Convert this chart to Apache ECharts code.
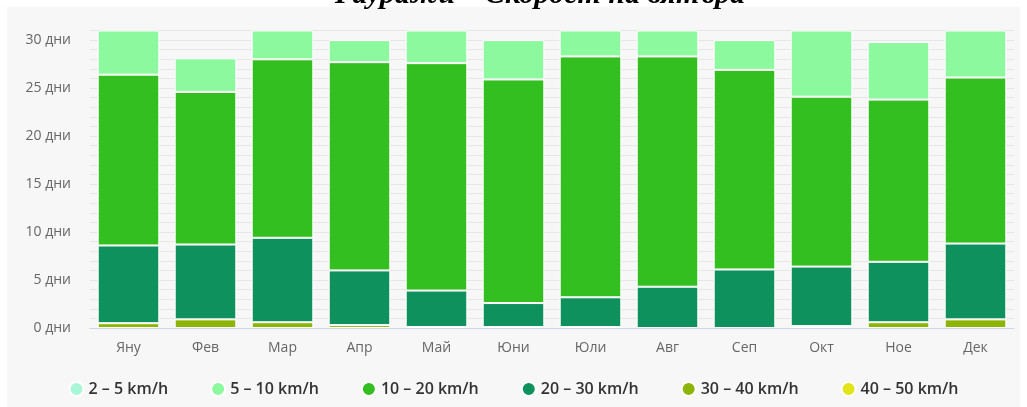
<!DOCTYPE html>
<html>
<head>
<meta charset="utf-8">
<script src="https://cdn.jsdelivr.net/npm/echarts@6/dist/echarts.min.js"></script>
<style>
  html, body { margin: 0; padding: 0; background: #fff; }
  #chart { width: 1027px; height: 407px; }
</style>
</head>
<body>
<div id="chart"></div>
<script>
// скорост на вятъра - дни по месеци
var months = ['Яну', 'Фев', 'Мар', 'Апр', 'Май', 'Юни', 'Юли', 'Авг', 'Сеп', 'Окт', 'Ное', 'Дек'];
var seriesNames = ['2 – 5 km/h', '5 – 10 km/h', '10 – 20 km/h', '20 – 30 km/h', '30 – 40 km/h', '40 – 50 km/h'];
var seriesColors = ['#aaf7d8', '#8cf99f', '#33bf20', '#0f915e', '#8cb505', '#e3e31a'];

var wind2to5   = [0, 0, 0, 0, 0, 0, 0, 0, 0, 0, 0, 0];
var wind5to10  = [4.6, 3.5, 3.0, 2.3, 3.4, 4.1, 2.7, 2.7, 3.1, 6.9, 6.0, 4.9];
var wind10to20 = [17.8, 15.9, 18.6, 21.7, 23.7, 23.3, 25.1, 24.0, 20.8, 17.7, 16.9, 17.3];
var wind20to30 = [8.1, 7.8, 8.8, 5.7, 3.8, 2.5, 3.1, 4.3, 6.1, 6.2, 6.3, 7.9];
var wind30to40 = [0.5, 0.9, 0.6, 0.3, 0.1, 0.1, 0.1, 0, 0, 0.2, 0.6, 0.9];
var wind40to50 = [0, 0, 0, 0, 0, 0, 0, 0, 0, 0, 0, 0];

var values = [wind2to5, wind5to10, wind10to20, wind20to30, wind30to40, wind40to50];

var myChart = echarts.init(document.getElementById('chart'));

// първата серия е отгоре, затова стекът върви наобратно
var series = [];
for (var i = values.length - 1; i >= 0; i--) {
    series.push({
        name: seriesNames[i],
        type: 'bar',
        stack: 'wind',
        barCategoryGap: '20%',
        itemStyle: {
            color: seriesColors[i],
            borderColor: '#ffffff',
            borderWidth: 1
        },
        emphasis: { disabled: true },
        data: values[i].map(function (v) { return v === 0 ? '-' : v; })
    });
}

var option = {
    backgroundColor: '#ffffff',
    animation: false,
    title: {
        text: 'Гауражи – Скорост на вятъра',
        left: 535,
        textAlign: 'center',
        top: -25,
        textStyle: {
            fontFamily: 'Liberation Serif',
            fontStyle: 'italic',
            fontWeight: 'bold',
            fontSize: 30,
            color: '#000'
        }
    },
    graphic: [{
        type: 'rect',
        z: -10,
        shape: { x: 7, y: 7, width: 1013, height: 400 },
        style: { fill: '#f7f7f7' }
    }],
    grid: {
        left: 90,
        right: 13,
        top: 30.5,
        bottom: 79
    },
    legend: {
        data: seriesNames,
        bottom: 5,
        left: 'center',
        icon: 'circle',
        itemWidth: 14,
        itemHeight: 14,
        itemGap: 42,
        textStyle: {
            fontFamily: 'Open Sans',
            fontSize: 16,
            fontWeight: 600,
            color: '#333'
        }
    },
    xAxis: {
        type: 'category',
        data: months,
        axisLine: { lineStyle: { color: '#ccd6eb' } },
        axisTick: { show: false },
        axisLabel: {
            color: '#666',
            fontSize: 14,
            fontFamily: 'Open Sans',
            margin: 13
        }
    },
    yAxis: {
        type: 'value',
        min: 0,
        max: 31,
        interval: 1,
        axisLine: { show: false },
        axisTick: { show: false },
        splitLine: { lineStyle: { color: '#e6e6e6' } },
        axisLabel: {
            color: '#666',
            fontSize: 14,
            fontFamily: 'Open Sans',
            margin: 19,
            formatter: function (v) {
                return v % 5 === 0 && v <= 30 ? v + ' дни' : '';
            }
        }
    },
    series: series
};

myChart.setOption(option);
</script>
</body>
</html>
